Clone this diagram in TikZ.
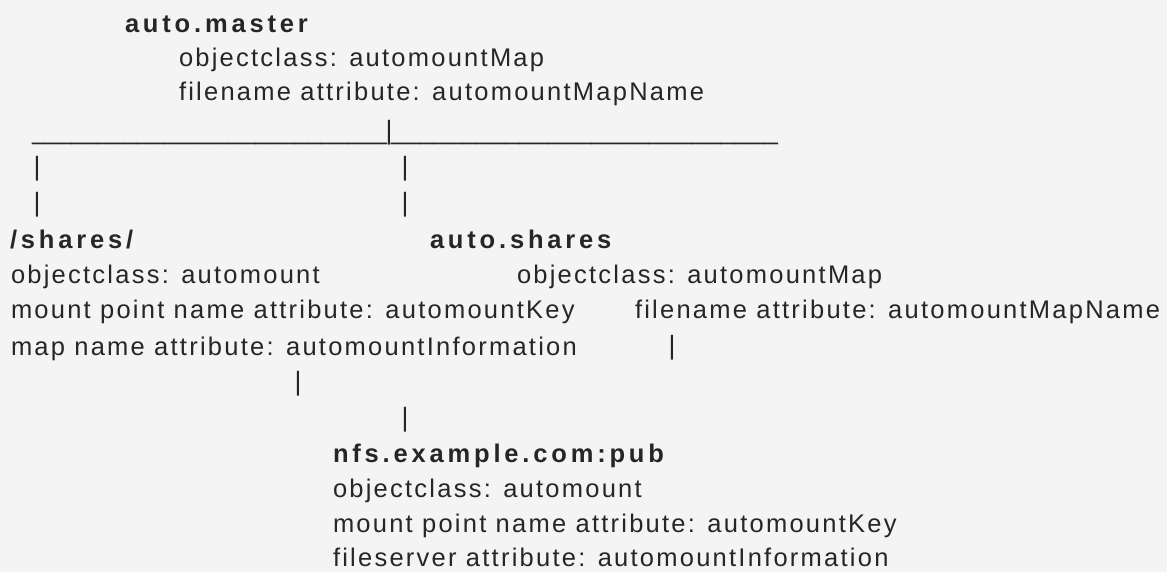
\documentclass[tikz,border=0pt]{standalone}
\usepackage{fontspec}
\usepackage{graphicx}
\newfontfamily\rgfont[LetterSpace=8.8]{Liberation Sans}
\newfontfamily\bdfont[LetterSpace=15]{Liberation Sans}
\newfontfamily\plfont{Liberation Sans}
\definecolor{bg}{HTML}{F4F4F4}
\definecolor{ink}{HTML}{262626}
\newcommand{\unders}[1]{\resizebox*{#1pt}{\totalheight}{\_\_\_\_\_\_\_\_\_\_\_\_\_\_\_\_\_\_\_\_\_\_\_\_\_\_\_}}
\begin{document}
\begin{tikzpicture}[x=1pt,y=-1pt,
  txt/.style={anchor=base west, inner sep=0pt, outer sep=0pt, text=ink, font=\fontsize{25.5}{30}\selectfont\rgfont},
  ttl/.style={txt, font=\fontsize{25.5}{30}\selectfont\bdfont\bfseries},
  bar/.style={inner sep=0pt, outer sep=0pt, text=ink, font=\fontsize{26.5}{30}\selectfont\plfont},
  uline/.style={bar, anchor=base west}]
\fill[bg] (0,0) rectangle (1167,572);
\useasboundingbox (0,0) rectangle (1167,572);
% auto.master block
\node[ttl] (master) at (125,33) {auto.master};
\node[txt] (masterA) at (179,67) {objectclass: automountMap};
\node[txt] (masterB) at (179,101) {filename attribute: automountMapName};
% branch row
\node[uline] (ulL) at (32,139.5) {\unders{355}};
\node[bar] (pipeM) at (389,132.5) {|};
\node[uline] (ulR) at (391,139.5) {\unders{387}};
\node[bar] (pipeL1) at (37,168.5) {|};
\node[bar] (pipeR1) at (405,168.5) {|};
\node[bar] (pipeL2) at (37,204.5) {|};
\node[bar] (pipeR2) at (405,204.5) {|};
% /shares/ block
\node[ttl] (shares) at (10,248) {/shares/};
\node[txt] (sharesA) at (11,283) {objectclass: automount};
\node[txt] (sharesB) at (11,318) {mount point name attribute: automountKey};
\node[txt] (sharesC) at (11,355) {map name attribute: automountInformation};
% auto.shares block
\node[ttl] (autoshares) at (430,248) {auto.shares};
\node[txt] (autosharesA) at (517,283) {objectclass: automountMap};
\node[txt] (autosharesB) at (635,318) {filename attribute: automountMapName};
\node[bar] (pipeS) at (672,347.5) {|};
% lower pipes
\node[bar] (pipeP) at (298,384) {|};
\node[bar] (pipeQ) at (405,419.5) {|};
% nfs block
\node[ttl] (nfs) at (333,462) {nfs.example.com:pub};
\node[txt] (nfsA) at (333,497.5) {objectclass: automount};
\node[txt] (nfsB) at (333,532.5) {mount point name attribute: automountKey};
\node[txt] (nfsC) at (333,566) {fileserver attribute: automountInformation};
\end{tikzpicture}
\end{document}
